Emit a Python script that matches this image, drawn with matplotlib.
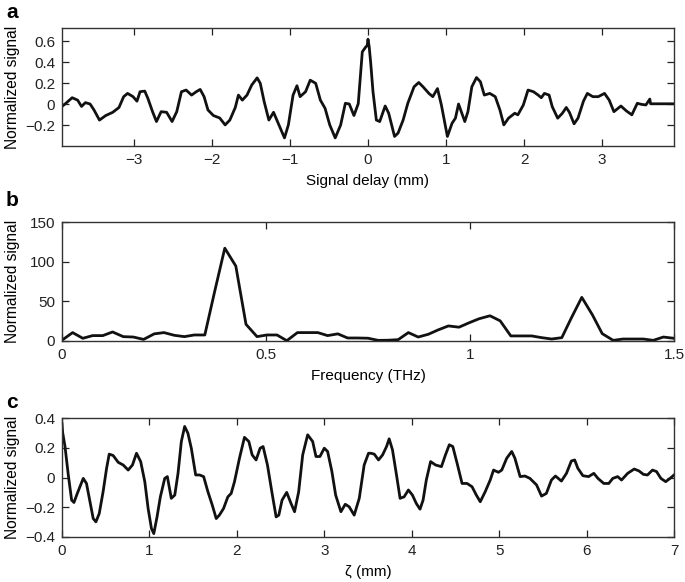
import numpy as np
import matplotlib
matplotlib.use("Agg")
import matplotlib.pyplot as plt
from matplotlib.ticker import FuncFormatter

# Panel a: interferogram vs signal delay (mm)
delay = [-3.92, -3.87, -3.79, -3.72, -3.67, -3.62, -3.56, -3.51, -3.44, -3.36,
         -3.27, -3.19, -3.13, -3.08, -3.01, -2.96, -2.92, -2.86, -2.82, -2.76,
         -2.71, -2.65, -2.58, -2.51, -2.45, -2.39, -2.33, -2.26, -2.20, -2.15,
         -2.10, -2.05, -1.98, -1.90, -1.83, -1.77, -1.70, -1.66, -1.61, -1.55,
         -1.49, -1.42, -1.38, -1.33, -1.27, -1.21, -1.15, -1.07, -1.02, -0.96,
         -0.91, -0.87, -0.80, -0.74, -0.67, -0.61, -0.55, -0.49, -0.42, -0.35,
         -0.29, -0.24, -0.18, -0.125, -0.073, -0.03, -0.01, 0.0, 0.015, 0.034,
         0.064, 0.107, 0.15, 0.22, 0.265, 0.34, 0.385, 0.45, 0.51, 0.59,
         0.65, 0.705, 0.78, 0.83, 0.89, 0.94, 1.017, 1.077, 1.12, 1.16,
         1.24, 1.28, 1.33, 1.39, 1.44, 1.49, 1.56, 1.63, 1.69, 1.74,
         1.80, 1.88, 1.92, 1.99, 2.05, 2.12, 2.18, 2.22, 2.26, 2.32,
         2.36, 2.43, 2.49, 2.54, 2.58, 2.64, 2.69, 2.76, 2.81, 2.88,
         2.95, 3.03, 3.09, 3.15, 3.24, 3.31, 3.38, 3.45, 3.50, 3.56,
         3.61, 3.62, 3.93]
sig_a = [-0.02, 0.01, 0.063, 0.04, -0.02, 0.016, 0.003, -0.054, -0.15, -0.107,
         -0.076, -0.03, 0.073, 0.104, 0.073, 0.03, 0.12, 0.126, 0.057, -0.07,
         -0.164, -0.07, -0.076, -0.164, -0.07, 0.12, 0.136, 0.088, 0.12, 0.142,
         0.073, -0.054, -0.107, -0.13, -0.196, -0.15, -0.03, 0.088, 0.04, 0.088,
         0.183, 0.252, 0.2, 0.025, -0.15, -0.076, -0.18, -0.32, -0.196, 0.088,
         0.177, 0.073, 0.12, 0.23, 0.2, 0.04, -0.038, -0.196, -0.32, -0.196,
         0.01, 0.003, -0.107, 0.006, 0.5, 0.545, 0.56, 0.62, 0.55, 0.4,
         0.12, -0.15, -0.164, -0.016, -0.085, -0.306, -0.274, -0.15, 0.01, 0.167,
         0.208, 0.167, 0.104, 0.073, 0.15, -0.006, -0.306, -0.18, -0.132, 0.003,
         -0.164, -0.07, 0.167, 0.255, 0.215, 0.088, 0.104, 0.073, -0.054, -0.196,
         -0.132, -0.085, -0.1, -0.006, 0.136, 0.12, 0.088, 0.063, 0.104, 0.088,
         -0.022, -0.132, -0.085, -0.03, -0.076, -0.186, -0.132, 0.03, 0.104, 0.073,
         0.073, 0.104, 0.04, -0.07, -0.016, -0.063, -0.1, 0.01, 0.0, -0.006,
         0.05, 0.005, 0.005]

# Panel b: spectrum
freq = [0.000, 0.026, 0.051, 0.075, 0.100, 0.124, 0.150, 0.175, 0.200, 0.226,
        0.250, 0.275, 0.300, 0.324, 0.350, 0.374, 0.399, 0.426, 0.451, 0.478,
        0.502, 0.527, 0.551, 0.577, 0.602, 0.627, 0.651, 0.676, 0.700, 0.724,
        0.750, 0.775, 0.800, 0.824, 0.849, 0.873, 0.898, 0.922, 0.947, 0.973,
        0.998, 1.022, 1.049, 1.074, 1.100, 1.124, 1.151, 1.176, 1.200, 1.225,
        1.249, 1.274, 1.300, 1.324, 1.351, 1.375, 1.400, 1.425, 1.449, 1.474,
        1.500]
amp_b = [1, 10.6, 3.4, 6.8, 6.8, 11.4, 5.5, 5, 2, 9,
         10.6, 7.2, 5.5, 7.6, 7.6, 62, 117, 94.5, 21, 5.5,
         7.6, 7.6, 0.4, 10.6, 10.6, 10.6, 6.8, 9, 3.8, 3.8,
         3.5, 0.8, 1, 1.7, 10.6, 5, 8.5, 14, 19, 17.4,
         23, 28, 31.8, 25.4, 6.4, 6.4, 6.4, 4.2, 2.5, 4.2,
         29.7, 55, 33, 9.3, 0.8, 2.5, 2.5, 2.5, 0.8, 5,
         3.4]

# Panel c: signal vs zeta (mm)
zeta = [0.0, 0.008, 0.034, 0.072, 0.11, 0.137, 0.175, 0.213, 0.243, 0.28,
        0.32, 0.357, 0.388, 0.426, 0.47, 0.51, 0.54, 0.585, 0.643, 0.70,
        0.757, 0.806, 0.852, 0.90, 0.947, 0.985, 1.023, 1.05, 1.087, 1.125,
        1.175, 1.205, 1.25, 1.29, 1.327, 1.365, 1.403, 1.44, 1.479, 1.529,
        1.574, 1.62, 1.669, 1.719, 1.764, 1.80, 1.848, 1.897, 1.935, 1.973,
        2.03, 2.087, 2.137, 2.175, 2.22, 2.266, 2.30, 2.35, 2.40, 2.449,
        2.48, 2.517, 2.57, 2.62, 2.66, 2.707, 2.753, 2.81, 2.867, 2.905,
        2.95, 3.0, 3.038, 3.087, 3.13, 3.19, 3.24, 3.285, 3.342, 3.40,
        3.456, 3.506, 3.534, 3.572, 3.62, 3.667, 3.712, 3.742, 3.78, 3.826,
        3.867, 3.913, 3.962, 4.008, 4.053, 4.095, 4.13, 4.167, 4.216, 4.273,
        4.34, 4.386, 4.43, 4.47, 4.519, 4.576, 4.633, 4.69, 4.739, 4.784,
        4.84, 4.898, 4.936, 4.992, 5.03, 5.087, 5.144, 5.18, 5.24, 5.295,
        5.352, 5.428, 5.485, 5.54, 5.598, 5.644, 5.712, 5.77, 5.826, 5.864,
        5.90, 5.958, 6.023, 6.083, 6.13, 6.197, 6.254, 6.30, 6.356, 6.40,
        6.47, 6.545, 6.60, 6.65, 6.697, 6.754, 6.80, 6.85, 6.905, 6.955,
        7.0]
sig_c = [0.36, 0.3, 0.21, 0.017, -0.152, -0.168, -0.107, -0.05, -0.006, -0.04,
         -0.163, -0.276, -0.298, -0.242, -0.096, 0.062, 0.157, 0.148, 0.102, 0.084,
         0.05, 0.084, 0.163, 0.107, -0.028, -0.208, -0.343, -0.377, -0.265, -0.13,
         -0.006, 0.006, -0.14, -0.118, 0.028, 0.242, 0.343, 0.298, 0.197, 0.017,
         0.017, 0.006, -0.096, -0.186, -0.276, -0.253, -0.208, -0.13, -0.107, -0.028,
         0.13, 0.27, 0.242, 0.152, 0.118, 0.197, 0.208, 0.084, -0.096, -0.265,
         -0.253, -0.152, -0.1, -0.175, -0.23, -0.096, 0.152, 0.287, 0.242, 0.141,
         0.141, 0.197, 0.175, 0.04, -0.118, -0.23, -0.18, -0.197, -0.253, -0.14,
         0.084, 0.163, 0.163, 0.157, 0.118, 0.152, 0.208, 0.26, 0.186, 0.017,
         -0.14, -0.13, -0.084, -0.118, -0.175, -0.213, -0.152, -0.017, 0.107, 0.084,
         0.073, 0.152, 0.22, 0.208, 0.096, -0.04, -0.04, -0.062, -0.118, -0.163,
         -0.096, -0.017, 0.05, 0.035, 0.05, 0.13, 0.175, 0.13, 0.006, 0.01,
         -0.006, -0.05, -0.125, -0.107, -0.017, 0.01, -0.024, 0.028, 0.111, 0.118,
         0.062, 0.012, 0.006, 0.028, -0.006, -0.04, -0.04, -0.006, 0.006, -0.017,
         0.028, 0.057, 0.044, 0.021, 0.017, 0.05, 0.04, -0.006, -0.028, -0.006,
         0.017]

plt.rcParams['font.family'] = ['Liberation Sans', 'DejaVu Sans']
plt.rcParams['axes.unicode_minus'] = True

fig = plt.figure(figsize=(6.85, 5.82), dpi=100)
W, H = 685, 582

def make_ax(top, bottom):
    ax = fig.add_axes([62 / W, 1 - bottom / H, (674 - 62) / W, (bottom - top) / H])
    ax.tick_params(direction='in', top=True, right=True, length=5, width=0.9,
                   labelsize=11, pad=5, colors='#222222', labelcolor='#222222')
    for s in ax.spines.values():
        s.set_linewidth(1.0)
        s.set_color('#333333')
    return ax

fmt = FuncFormatter(lambda v, p: ('%g' % v).replace('-', '\u2212'))
lc = '#111111'
lw = 2.0

ax1 = make_ax(28, 146)
ax1.plot(delay, sig_a, color=lc, lw=lw)
ax1.set_xlim(-3.92, 3.92)
ax1.set_ylim(-0.397, 0.727)
ax1.set_xticks([-3, -2, -1, 0, 1, 2, 3])
ax1.set_yticks([-0.2, 0, 0.2, 0.4, 0.6])
ax1.xaxis.set_major_formatter(fmt)
ax1.yaxis.set_major_formatter(fmt)
ax1.set_xlabel('Signal delay (mm)', fontsize=11, labelpad=5)

ax2 = make_ax(222, 341)
ax2.plot(freq, amp_b, color=lc, lw=lw)
ax2.set_xlim(0, 1.5)
ax2.set_ylim(0, 150)
ax2.set_xticks([0, 0.5, 1, 1.5])
ax2.set_yticks([0, 50, 100, 150])
ax2.xaxis.set_major_formatter(fmt)
ax2.yaxis.set_major_formatter(fmt)
ax2.set_xlabel('Frequency (THz)', fontsize=11, labelpad=5)

ax3 = make_ax(418, 537)
ax3.plot(zeta, sig_c, color=lc, lw=lw)
ax3.set_xlim(0, 7)
ax3.set_ylim(-0.4, 0.4)
ax3.set_xticks(range(8))
ax3.set_yticks([-0.4, -0.2, 0, 0.2, 0.4])
ax3.xaxis.set_major_formatter(fmt)
ax3.yaxis.set_major_formatter(fmt)
ax3.set_xlabel('\u03b6 (mm)', fontsize=11, labelpad=5)

for ax in (ax1, ax2, ax3):
    ax.set_ylabel('Normalized signal', fontsize=11.2)
    ax.yaxis.set_label_coords(-0.068, 0.5)

for letter, y in (('a', 12), ('b', 200), ('c', 403)):
    fig.text(6 / W, 1 - y / H, letter, fontsize=15, fontweight='bold',
             va='center', ha='left')

fig.savefig('out.png', dpi=100)
